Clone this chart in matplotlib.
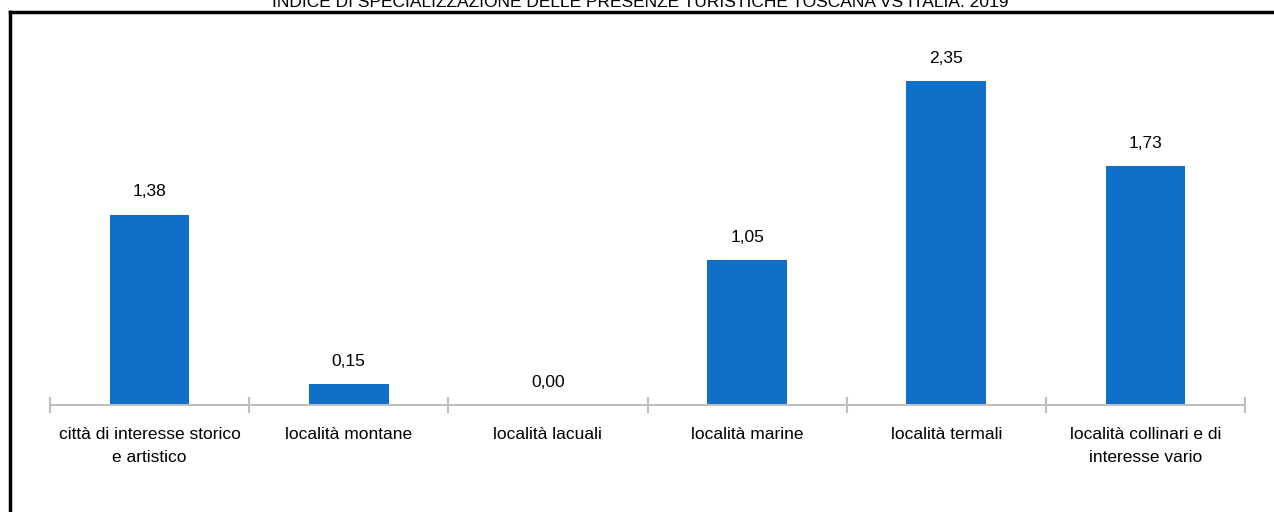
import numpy as np
import matplotlib.pyplot as plt
from matplotlib.lines import Line2D

categorie = ['città di interesse storico\ne artistico', 'località montane', 'località lacuali',
             'località marine', 'località termali', 'località collinari e di\ninteresse vario']
indice = [1.38, 0.15, 0.00, 1.05, 2.35, 1.73]
etichette = ['1,38', '0,15', '0,00', '1,05', '2,35', '1,73']
titolo = 'INDICE DI SPECIALIZZAZIONE DELLE PRESENZE TURISTICHE TOSCANA VS ITALIA. 2019'

plt.rcParams['font.family'] = ['Liberation Sans', 'DejaVu Sans']

fig = plt.figure(figsize=(12.74, 5.12), dpi=100)
W, H = 1274, 512
ax = fig.add_axes([50 / W, (H - 405) / H, 1195 / W, 392 / H])

x = np.arange(len(categorie))
bars = ax.bar(x, indice, width=0.4, color='#1070C8', zorder=2)
for b, t in zip(bars, etichette):
    ax.annotate(t, (b.get_x() + b.get_width() / 2, b.get_height()), xytext=(0, 11),
                textcoords='offset points', ha='center', va='bottom', fontsize=12.5)

ax.set_xlim(-0.5, len(categorie) - 0.5)
ax.set_ylim(0, 2.843)
ax.set_xticks(x)
ax.set_xticklabels(categorie, fontsize=12.5, linespacing=1.65, va='top')
ax.tick_params(axis='x', which='major', length=0, pad=16)
ax.set_xticks(np.arange(len(categorie) + 1) - 0.5, minor=True)
ax.tick_params(axis='x', which='minor', length=12, direction='inout', color='#BFBFBF', width=1.5)
ax.set_yticks([])
for s in ['top', 'right', 'left']:
    ax.spines[s].set_visible(False)
ax.spines['bottom'].set_color('#BFBFBF')
ax.spines['bottom'].set_linewidth(1.5)

# cornice sinistra e superiore
fig.add_artist(Line2D([10 / W, 10 / W], [0, (H - 12) / H], color='black', lw=2.5, transform=fig.transFigure))
fig.add_artist(Line2D([10 / W, 1], [(H - 12) / H, (H - 12) / H], color='black', lw=2.5, transform=fig.transFigure))

fig.text(640 / W, (H - 7) / H, titolo, ha='center', va='baseline', fontsize=12.5)

fig.savefig('out.png', dpi=100)
